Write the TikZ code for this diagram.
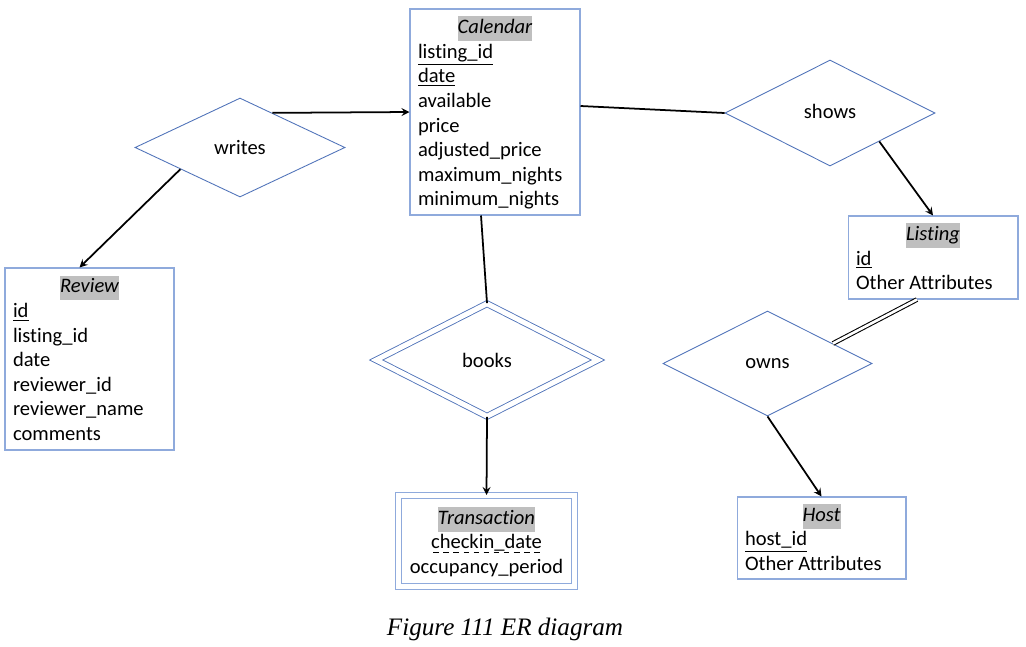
\documentclass[tikz,border=0pt]{standalone}
\usepackage{fontspec}
\setmainfont[Ligatures=NoCommon]{Carlito}
\newfontfamily\figcaptionfont{Liberation Serif}
\usepackage{tikz}
\usetikzlibrary{shapes.geometric, arrows}
\definecolor{boxblue}{RGB}{143,170,220}
\definecolor{relblue}{RGB}{80,115,185}
\definecolor{titlegray}{RGB}{191,191,191}
\newcommand{\erfont}{\fontsize{11.7}{14}\selectfont}
\newcommand{\erhl}[1]{{\setlength{\fboxsep}{0pt}\colorbox{titlegray}{\strut\itshape #1}}}
\newcommand{\ertitle}[1]{\multicolumn{1}{@{}c@{}}{\erhl{#1}}}
\newcommand{\erlower}[1]{\raisebox{-1.6pt}[\height][\depth]{#1}}
\newcommand{\erattrs}[2]{\erlower{\begin{tabular}{@{}p{#1}@{}}#2\end{tabular}}}
\newcommand{\erdashed}[1]{\leavevmode\setbox0\hbox{#1}\rlap{\raisebox{-2.6pt}{\hbox to \wd0{\xleaders\hbox to 5.5pt{\hss\vrule height 0.55pt width 3.3pt\hss}\hfill}}}#1}
\tikzstyle{entity} = [rectangle, draw=boxblue, line width=0.6pt, inner xsep=0.16cm, inner ysep=0cm, font=\erfont]
\tikzstyle{weakentity} = [entity, double, double distance=0.1cm, minimum width=3.52cm]
\tikzstyle{relation} = [diamond, draw=relblue, line width=0.5pt, minimum width=4.2cm, minimum height=2.1cm, inner sep=0pt, font=\erfont]
\tikzstyle{weakrelation} = [relation, double, double distance=0.1cm, minimum width=4.44cm, minimum height=2.26cm]
\tikzstyle{arrow} = [line width=1pt,->,>=stealth]
\tikzstyle{link} = [line width=1pt]

\begin{document}
\begin{tikzpicture}[x=0.02cm, y=-0.02cm]
		\useasboundingbox (0,0) rectangle (1026,646);
		
		\node (calendar) [entity, minimum height=4.12cm] at (495,112) {\erattrs{3.08cm}{\ertitle{Calendar}\\ \underline{listing\_id}\\ \underline{date}\\ available\\ price\\ adjusted\_price\\ maximum\_nights\\ minimum\_nights}};
		\node (review) [entity, minimum height=3.64cm] at (89.5,359) {\erattrs{3.06cm}{\ertitle{Review}\\ \underline{id}\\ listing\_id\\ date\\ reviewer\_id\\ reviewer\_name\\ comments}};
		\node (listing) [entity, minimum height=1.66cm] at (933,257.5) {\erattrs{3.08cm}{\ertitle{Listing}\\ \underline{id}\\ Other Attributes}};
		\node (host) [entity, minimum height=1.64cm] at (821.5,538) {\erattrs{3.06cm}{\ertitle{Host}\\ \underline{host\_id}\\ Other Attributes}};
		\node (transaction) [weakentity, minimum height=1.82cm] at (486.5,541) {\erlower{\begin{tabular}{@{}c@{}}\erhl{Transaction}\\ \erdashed{checkin\_date}\\ occupancy\_period\end{tabular}}};
		
		\node (writes) [relation, minimum height=1.98cm] at (240,147.5) {writes};
		\node (shows) [relation, minimum height=2.12cm] at (830,113) {\raisebox{2pt}{shows}};
		\node (owns) [relation, minimum width=4.18cm] at (767.5,363.5) {owns};
		\node (books) [weakrelation] at (487,360) {books};
		
		\draw [arrow] (writes.47) -- (calendar.west);
		\draw [arrow] (writes.200) -- ([xshift=-0.2cm]review.north);
		\draw [link] ([yshift=0.12cm]calendar.east) -- (shows.west);
		\draw [arrow] (shows.-30) -- (listing.north);
		\draw [link] ([xshift=-0.28cm]calendar.south) -- (books.north);
		\draw [arrow] (books.south) -- (transaction.north);
		\draw [line width=0.6pt, double, double distance=1.5pt] ([xshift=-0.32cm]listing.south) -- (owns.17);
		\draw [arrow] (owns.south) -- (host.north);
		
		\node (caption) at (505,629) {\figcaptionfont\fontsize{14.3}{17}\selectfont\itshape Figure 111 ER diagram};
		\end{tikzpicture}
\end{document}
